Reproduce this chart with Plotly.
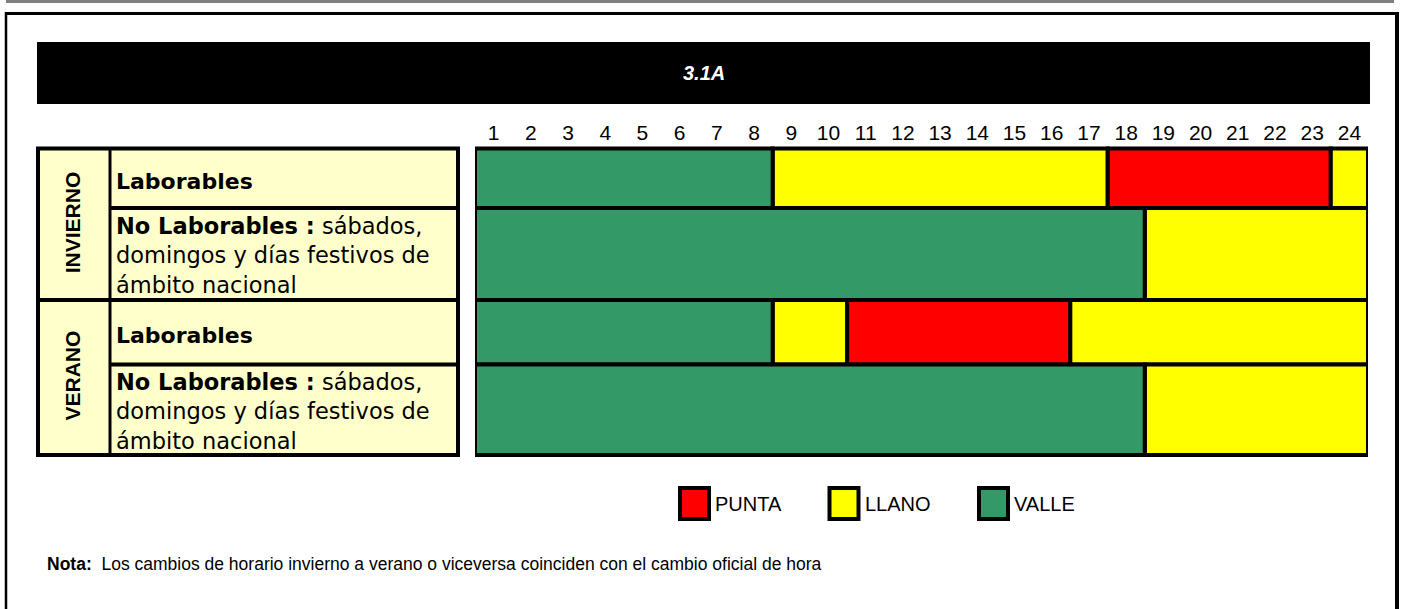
import plotly.graph_objects as go

# ------------------------------------------------------------------ data
title_text = "3.1A"
hours = list(range(1, 25))
seasons = ["INVIERNO", "VERANO"]
day_types = ["Laborables", "No Laborables"]
no_lab_detail = ["sábados,", "domingos y días festivos de", "ámbito nacional"]
periods = ["PUNTA", "LLANO", "VALLE"]

# one entry per coloured segment: row index (0..3), start hour, end hour, period
seg_row = [0, 0, 0, 0, 1, 1, 2, 2, 2, 2, 3, 3]
seg_start = [0, 8, 17, 23, 0, 18, 0, 8, 10, 16, 0, 18]
seg_end = [8, 17, 23, 24, 18, 24, 8, 10, 16, 24, 18, 24]
seg_period = ["VALLE", "LLANO", "PUNTA", "LLANO",
              "VALLE", "LLANO",
              "VALLE", "LLANO", "PUNTA", "LLANO",
              "VALLE", "LLANO"]

note_label = "Nota:"
note_text = ("Los cambios de horario invierno a verano o viceversa "
             "coinciden con el cambio oficial de hora")

# ------------------------------------------------------------------ style / layout
W, H = 1402, 609
COLORS = {"PUNTA": "#FF0000", "LLANO": "#FFFF00", "VALLE": "#339966"}
TABLE_BG = "#FFFFCC"
ARIAL = "Liberation Sans, Arial, sans-serif"
WIDE = "DejaVu Sans, Verdana, sans-serif"
NARROW = "Liberation Sans Narrow, Arial Narrow, Liberation Sans, Arial, sans-serif"

BAR_X0, BAR_X1 = 475, 1368           # pixel extent of the 0..24 h scale
ROW_EDGES = [148.5, 208, 300, 364.5, 455]
TAB_X0, TAB_XSPLIT, TAB_X1 = 38, 110, 458


def px(x):
    return x / W


def py(y):
    return 1 - y / H


row_center = [(ROW_EDGES[i] + ROW_EDGES[i + 1]) / 2 for i in range(4)]
row_height = [ROW_EDGES[i + 1] - ROW_EDGES[i] for i in range(4)]

fig = go.Figure()

for p in periods:
    idx = [i for i, s in enumerate(seg_period) if s == p]
    fig.add_trace(go.Bar(
        orientation="h",
        y=[row_center[seg_row[i]] for i in idx],
        width=[row_height[seg_row[i]] for i in idx],
        base=[seg_start[i] for i in idx],
        x=[seg_end[i] - seg_start[i] for i in idx],
        marker=dict(color=COLORS[p], line=dict(color="black", width=4)),
        name=p,
        showlegend=False,
        hoverinfo="skip",
    ))

shapes = []
# top grey rule
shapes.append(dict(type="rect", xref="paper", yref="paper",
                   x0=px(6), x1=px(1394), y0=py(0), y1=py(3),
                   fillcolor="#808080", line=dict(width=0)))
# outer frame
shapes.append(dict(type="line", xref="paper", yref="paper",
                   x0=px(5), x1=px(1399), y0=py(13.5), y1=py(13.5),
                   line=dict(color="black", width=3)))
shapes.append(dict(type="line", xref="paper", yref="paper",
                   x0=px(6), x1=px(6), y0=py(12), y1=py(620),
                   line=dict(color="black", width=2.5)))
shapes.append(dict(type="line", xref="paper", yref="paper",
                   x0=px(1397), x1=px(1397), y0=py(12), y1=py(620),
                   line=dict(color="black", width=4)))
# title band
shapes.append(dict(type="rect", xref="paper", yref="paper",
                   x0=px(37), x1=px(1370), y0=py(42), y1=py(104),
                   fillcolor="black", line=dict(width=0)))
# left table
shapes.append(dict(type="rect", xref="paper", yref="paper",
                   x0=px(TAB_X0), x1=px(TAB_X1), y0=py(ROW_EDGES[0]), y1=py(ROW_EDGES[4]),
                   fillcolor=TABLE_BG, line=dict(color="black", width=4), layer="below"))
shapes.append(dict(type="line", xref="paper", yref="paper",
                   x0=px(TAB_XSPLIT), x1=px(TAB_XSPLIT), y0=py(ROW_EDGES[0]), y1=py(ROW_EDGES[4]),
                   line=dict(color="black", width=3)))
for k, e in enumerate(ROW_EDGES[1:4]):
    xstart = TAB_X0 if k == 1 else TAB_XSPLIT
    shapes.append(dict(type="line", xref="paper", yref="paper",
                       x0=px(xstart), x1=px(TAB_X1), y0=py(e), y1=py(e),
                       line=dict(color="black", width=4)))

annotations = []
annotations.append(dict(xref="paper", yref="paper", x=px(703.5), y=py(73),
                        text="<b><i>" + title_text + "</i></b>", showarrow=False,
                        font=dict(family=ARIAL, size=20, color="white"),
                        xanchor="center", yanchor="middle"))

# season labels (rotated)
for s, season in enumerate(seasons):
    yc = (ROW_EDGES[2 * s] + ROW_EDGES[2 * s + 2]) / 2
    annotations.append(dict(xref="paper", yref="paper", x=px(72), y=py(yc - 2),
                            text="<b>" + season + "</b>", textangle=-90, showarrow=False,
                            font=dict(family=ARIAL, size=21, color="black"),
                            xanchor="center", yanchor="middle"))
    # Laborables
    annotations.append(dict(xref="paper", yref="paper", x=px(114), y=py(row_center[2 * s] + 3),
                            text="<b>" + day_types[0] + "</b>", showarrow=False,
                            font=dict(family=WIDE, size=22, color="black"),
                            xanchor="left", yanchor="middle", align="left"))
    # No laborables
    txt = ("<b>" + day_types[1] + " :</b> " + no_lab_detail[0] + "<br>"
           + no_lab_detail[1] + "<br>" + no_lab_detail[2])
    annotations.append(dict(xref="paper", yref="paper", x=px(114), y=py(row_center[2 * s + 1] + 2),
                            text=txt, showarrow=False,
                            font=dict(family=WIDE, size=22.5, color="black"),
                            xanchor="left", yanchor="middle", align="left"))

# legend
LEG_X0, LEG_STEP, LEG_Y0, LEG_Y1 = 680, 149.5, 488, 519
for k, p in enumerate(periods):
    x0 = LEG_X0 + k * LEG_STEP
    shapes.append(dict(type="rect", xref="paper", yref="paper",
                       x0=px(x0), x1=px(x0 + 29), y0=py(LEG_Y0), y1=py(LEG_Y1),
                       fillcolor=COLORS[p], line=dict(color="black", width=4)))
    annotations.append(dict(xref="paper", yref="paper", x=px(x0 + 33), y=py((LEG_Y0 + LEG_Y1) / 2),
                            text=p, showarrow=False,
                            font=dict(family=ARIAL, size=20, color="black"),
                            xanchor="left", yanchor="middle"))

# note
annotations.append(dict(xref="paper", yref="paper", x=px(45), y=py(564),
                        text="<b>" + note_label + "</b>\u00a0 " + note_text, showarrow=False,
                        font=dict(family=NARROW, size=17.5, color="black"),
                        xanchor="left", yanchor="middle"))

fig.update_layout(
    width=W, height=H,
    margin=dict(l=0, r=0, t=0, b=0),
    paper_bgcolor="white", plot_bgcolor="rgba(0,0,0,0)",
    barmode="overlay",
    hovermode=False,
    xaxis=dict(domain=[px(BAR_X0), px(BAR_X1)], range=[0, 24],
               anchor="free", position=py(ROW_EDGES[0]), side="top",
               tickmode="array", tickvals=[h - 0.5 for h in hours],
               ticktext=[str(h) for h in hours],
               tickfont=dict(family=ARIAL, size=21, color="black"),
               ticklabelstandoff=4,
               showgrid=False, zeroline=False, showline=False, ticks=""),
    yaxis=dict(domain=[0, 1], range=[H, 0], visible=False),
    shapes=shapes,
    annotations=annotations,
    showlegend=False,
)

fig.write_html("out.html", config={"displayModeBar": False},
               post_script="document.body.style.margin='0px';")
